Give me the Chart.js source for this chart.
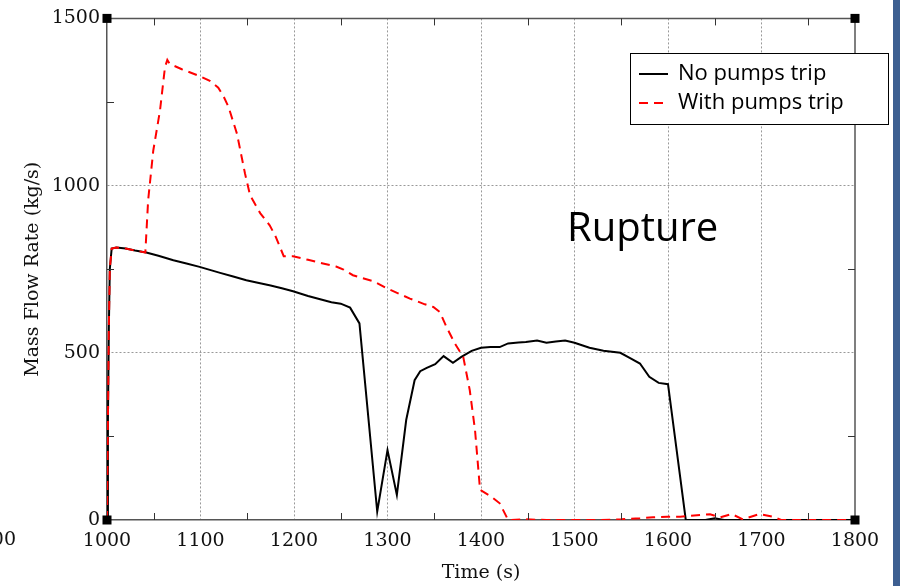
<!DOCTYPE html>
<html>
<head>
<meta charset="utf-8">
<script src="https://cdn.jsdelivr.net/npm/chart.js@4.4.0/dist/chart.umd.min.js"></script>
<style>
  html, body { margin: 0; padding: 0; background: #fff; overflow: hidden; }
  canvas { display: block; }
</style>
</head>
<body>
<canvas id="flowChart" width="900" height="586"></canvas>
<script>
// No pumps trip (black, solid)
const noTripTime = [1000, 1001, 1002, 1003, 1005, 1010, 1020, 1030, 1042, 1055, 1071, 1085, 1099, 1110, 1121, 1135, 1149, 1160, 1175, 1187, 1199, 1215, 1228, 1240, 1250, 1260, 1270, 1289, 1300, 1310, 1320, 1329, 1335, 1342, 1351, 1360, 1370, 1379, 1390, 1400, 1410, 1420, 1429, 1440, 1448, 1460, 1470, 1480, 1490, 1500, 1516, 1531, 1549, 1559, 1570, 1580, 1590, 1600, 1613, 1619, 1640, 1650, 1660, 1800];
const noTripFlow = [0, 300, 580, 750, 812, 815, 812, 806, 800, 790, 777, 767, 757, 748, 739, 728, 717, 710, 701, 693, 684, 670, 660, 651, 647, 635, 588, 25, 209, 75, 299, 418, 445, 455, 466, 490, 470, 488, 506, 515, 517, 517, 528, 531, 532, 537, 530, 534, 537, 530, 515, 506, 500, 485, 468, 428, 410, 406, 129, 0, 0, 5, 0, 0];

// With pumps trip (red, dashed)
const tripTime = [1000, 1001, 1002, 1003, 1005, 1010, 1020, 1030, 1041, 1044, 1049.5, 1056.7, 1062, 1064.5, 1067, 1080, 1099.5, 1110, 1119, 1125, 1130, 1139, 1147.6, 1153, 1164, 1174, 1180, 1189, 1199, 1215, 1231, 1245, 1253, 1263, 1271, 1285, 1300, 1324, 1340, 1349, 1356, 1363, 1372, 1381, 1388, 1393.6, 1399, 1411, 1420, 1429, 1448, 1470, 1500, 1527, 1550, 1570, 1584, 1599, 1613, 1620, 1645, 1656, 1668, 1680, 1698, 1712, 1721, 1800];
const tripFlow = [0, 300, 580, 750, 812, 815, 812, 806, 800, 956, 1105, 1225, 1354, 1376, 1364, 1348, 1327, 1313, 1293, 1265, 1235, 1155, 1036, 971, 917, 881, 850, 789, 789, 778, 767, 758, 749, 732, 725, 714, 692, 662, 645, 637, 622, 578, 528, 488, 388, 269, 90, 70, 50, 0, 2, 0, 0, 0, 2, 5, 8, 10, 10, 12, 17, 8, 18, 2, 18, 10, 0, 0];

const seriesLabels = ["No pumps trip", "With pumps trip"];
const minorTimeTicks = [1050, 1150, 1250, 1350, 1450, 1550, 1650, 1750];
const minorFlowTicks = [250, 750, 1250];

function toPoints(xs, ys) {
    var pts = [];
    for (var i = 0; i < xs.length; i++) {
        pts.push({ x: xs[i], y: ys[i] });
    }
    return pts;
}

const serif = "'DejaVu Serif', serif";

// background, frame, inner ticks, legend and annotation
const framePlugin = {
    id: "frame",
    beforeDraw(chart) {
        const ctx = chart.ctx;
        ctx.save();
        ctx.fillStyle = "#fff";
        ctx.fillRect(0, 0, chart.width, chart.height);
        ctx.fillStyle = "#3d5f91";
        ctx.fillRect(893, 0, 7, chart.height);
        ctx.restore();
    },
    afterDraw(chart) {
        const ctx = chart.ctx;
        const area = chart.chartArea;
        const xs = chart.scales.x;
        const ys = chart.scales.y;
        ctx.save();

        ctx.strokeStyle = "#555";
        ctx.lineWidth = 1.5;
        ctx.beginPath();
        ctx.moveTo(area.left, area.top);
        ctx.lineTo(area.right, area.top);
        ctx.lineTo(area.right, area.bottom);
        ctx.stroke();

        ctx.strokeStyle = "#333";
        ctx.lineWidth = 1;
        ctx.beginPath();
        minorTimeTicks.forEach(t => {
            const x = Math.round(xs.getPixelForValue(t)) + 0.5;
            ctx.moveTo(x, area.bottom);
            ctx.lineTo(x, area.bottom - 7);
            ctx.moveTo(x, area.top);
            ctx.lineTo(x, area.top + 7);
        });
        minorFlowTicks.forEach(v => {
            const y = Math.round(ys.getPixelForValue(v)) + 0.5;
            ctx.moveTo(area.left, y);
            ctx.lineTo(area.left + 7, y);
            ctx.moveTo(area.right, y);
            ctx.lineTo(area.right - 7, y);
        });
        ctx.stroke();

        ctx.fillStyle = "#000";
        [[area.left, area.top], [area.right, area.top], [area.left, area.bottom], [area.right, area.bottom]].forEach(c => {
            ctx.fillRect(c[0] - 4.5, c[1] - 4.5, 9, 9);
        });

        // cut off tick label at the left edge
        ctx.font = "19px " + serif;
        ctx.fillStyle = "#111";
        ctx.textAlign = "right";
        ctx.textBaseline = "middle";
        ctx.fillText("900", 16, 540);

        // legend
        ctx.fillStyle = "#fff";
        ctx.fillRect(630, 53, 258, 71);
        ctx.strokeStyle = "#000";
        ctx.lineWidth = 1;
        ctx.strokeRect(630.5, 53.5, 258, 71);
        const rows = [74, 103];
        chart.data.datasets.forEach((ds, i) => {
            ctx.strokeStyle = ds.borderColor;
            ctx.lineWidth = 2;
            ctx.setLineDash(ds.borderDash || []);
            ctx.beginPath();
            ctx.moveTo(639, rows[i]);
            ctx.lineTo(668, rows[i]);
            ctx.stroke();
            ctx.setLineDash([]);
            ctx.fillStyle = "#000";
            ctx.font = "22px 'Open Sans', sans-serif";
            ctx.textAlign = "left";
            ctx.textBaseline = "middle";
            ctx.fillText(ds.label, 678, rows[i]);
        });

        ctx.font = "40px 'Open Sans', sans-serif";
        ctx.textAlign = "left";
        ctx.textBaseline = "middle";
        ctx.fillText("Rupture", 567, 230);
        ctx.restore();
    }
};

var flowChart = new Chart(document.getElementById("flowChart"), {
    type: "line",
    data: {
        datasets: [{
            label: seriesLabels[0],
            data: toPoints(noTripTime, noTripFlow),
            borderColor: "#000",
            borderWidth: 2,
            pointRadius: 0,
            tension: 0,
            order: 1
        }, {
            label: seriesLabels[1],
            data: toPoints(tripTime, tripFlow),
            borderColor: "#ff0000",
            borderWidth: 2,
            borderDash: [9, 6],
            pointRadius: 0,
            tension: 0,
            order: 0
        }]
    },
    options: {
        responsive: false,
        animation: false,
        layout: { padding: { top: 18, right: 45, left: 0, bottom: 0 } },
        plugins: { legend: { display: false }, tooltip: { enabled: false } },
        scales: {
            x: {
                type: "linear",
                min: 1000,
                max: 1800,
                afterFit: s => { s.height = 66; },
                ticks: {
                    stepSize: 100,
                    padding: 10,
                    color: "#111",
                    font: { family: serif, size: 19 },
                    maxRotation: 0,
                    callback: v => String(v)
                },
                grid: {
                    drawTicks: false,
                    color: c => (c.tick && (c.tick.value === 1000 || c.tick.value === 1800)) ? "rgba(0,0,0,0)" : "#999"
                },
                border: { display: true, color: "#555", width: 1.5, dash: [2, 2] },
                title: {
                    display: true,
                    text: "Time (s)",
                    color: "#111",
                    font: { family: serif, size: 19 },
                    padding: { top: 0, bottom: 2 }
                }
            },
            y: {
                min: 0,
                max: 1500,
                afterFit: s => { s.width = 107; },
                ticks: {
                    stepSize: 500,
                    padding: 7,
                    color: "#111",
                    font: { family: serif, size: 19 },
                    callback: v => String(v)
                },
                grid: {
                    drawTicks: false,
                    color: c => (c.tick && (c.tick.value === 0 || c.tick.value === 1500)) ? "rgba(0,0,0,0)" : "#999"
                },
                border: { display: true, color: "#555", width: 1.5, dash: [2, 2] },
                title: {
                    display: true,
                    text: "Mass Flow Rate (kg/s)",
                    color: "#111",
                    font: { family: serif, size: 19 },
                    padding: { top: 22, bottom: 0 }
                }
            }
        }
    },
    plugins: [framePlugin]
});
</script>
</body>
</html>
